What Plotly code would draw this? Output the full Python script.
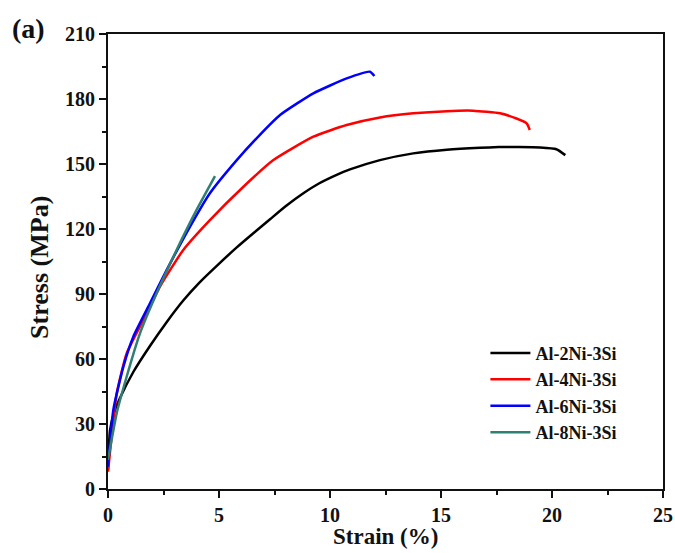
import plotly.graph_objects as go

# Data (strain %, stress MPa)
strain_2ni = [0.0, 0.09, 0.3, 0.54, 1.14, 1.89, 2.64, 3.39, 4.14, 4.9, 5.8, 6.6, 7.3, 8.0, 8.8, 9.5, 10.3, 10.9, 12.25, 13.75, 15.26, 16.76, 17.6, 18.5, 19.46, 20.2, 20.6]
stress_2ni = [9.0, 27.0, 36.0, 42.0, 54.0, 66.0, 77.0, 87.0, 95.5, 103.0, 111.5, 118.5, 124.5, 130.5, 136.5, 141.0, 145.0, 147.5, 151.8, 154.9, 156.6, 157.5, 157.8, 157.8, 157.6, 156.8, 154.1]

strain_4ni = [0.0, 0.39, 0.84, 1.59, 2.34, 3.39, 4.59, 6.1, 7.45, 9.25, 10.75, 12.25, 13.75, 15.26, 16.45, 17.66, 18.4, 18.86, 19.0]
stress_4ni = [8.0, 44.0, 62.6, 78.0, 93.4, 110.3, 124.1, 139.5, 151.8, 162.6, 168.0, 171.5, 173.4, 174.4, 174.6, 173.4, 171.0, 168.8, 165.7]

strain_6ni = [0.0, 0.24, 0.69, 1.14, 1.89, 2.64, 3.69, 4.59, 5.8, 6.8, 7.75, 9.25, 10.75, 11.8, 12.0]
stress_6ni = [10.3, 36.5, 56.4, 70.3, 85.7, 101.0, 121.0, 136.5, 151.8, 163.0, 172.6, 182.6, 189.5, 192.6, 190.6]

strain_8ni = [0.0, 0.39, 0.84, 1.44, 2.19, 3.09, 3.99, 4.82]
stress_8ni = [13.4, 34.9, 51.8, 71.8, 90.3, 110.3, 128.8, 144.4]

names = ["Al-2Ni-3Si", "Al-4Ni-3Si", "Al-6Ni-3Si", "Al-8Ni-3Si"]
colors = ["#000000", "#ff0000", "#0000ff", "#2f7f73"]

xs = [strain_2ni, strain_4ni, strain_6ni, strain_8ni]
ys = [stress_2ni, stress_4ni, stress_6ni, stress_8ni]

x_ticks = [0, 5, 10, 15, 20, 25]
y_ticks = [0, 30, 60, 90, 120, 150, 180, 210]

FONT = "Liberation Serif"
INK = "#111111"

fig = go.Figure()
for x, y, n, c in zip(xs, ys, names, colors):
    fig.add_trace(go.Scatter(x=x, y=y, name=n, mode="lines",
                             line=dict(color=c, width=2.5, shape="spline", smoothing=0.5)))

axis_common = dict(
    showgrid=False, zeroline=False, showline=True, linecolor=INK, linewidth=2,
    mirror=True, ticks="outside", ticklen=7, tickwidth=2, tickcolor=INK,
    tickfont=dict(family=FONT, size=20, color=INK, weight="bold"),
    automargin=False,
)

fig.update_xaxes(range=[0, 25], tickvals=x_ticks, ticktext=[str(v) for v in x_ticks],
                 minor=dict(dtick=2.5, tick0=0, ticks="outside", ticklen=4, tickwidth=2, tickcolor=INK),
                 **axis_common)
fig.update_yaxes(range=[0, 210], tickvals=y_ticks, ticktext=[str(v) for v in y_ticks],
                 minor=dict(dtick=15, tick0=0, ticks="outside", ticklen=4, tickwidth=2, tickcolor=INK),
                 **axis_common)

fig.update_layout(
    width=675, height=553,
    margin=dict(l=108, r=12, t=34, b=64),
    paper_bgcolor="white", plot_bgcolor="white",
    font=dict(family=FONT, color=INK),
    showlegend=True,
    legend=dict(x=0.68, y=0.339, xanchor="left", yanchor="top",
                bgcolor="rgba(0,0,0,0)", borderwidth=0,
                font=dict(family=FONT, size=18, color=INK, weight="bold"),
                itemwidth=40),
    annotations=[
        dict(text="<b>(a)</b>", x=-0.177, y=1.013, xref="paper", yref="paper",
             xanchor="left", yanchor="middle", showarrow=False,
             font=dict(family=FONT, size=28, color=INK)),
        dict(text="<b>Strain (%)</b>", x=0.5, y=-0.105, xref="paper", yref="paper",
             xanchor="center", yanchor="middle", showarrow=False,
             font=dict(family=FONT, size=23, color=INK)),
        dict(text="<b>Stress (MPa)</b>", x=-0.1225, y=0.486, xref="paper", yref="paper",
             xanchor="center", yanchor="middle", textangle=-90, showarrow=False,
             font=dict(family=FONT, size=26, color=INK)),
    ],
)

fig.write_html("out.html")
